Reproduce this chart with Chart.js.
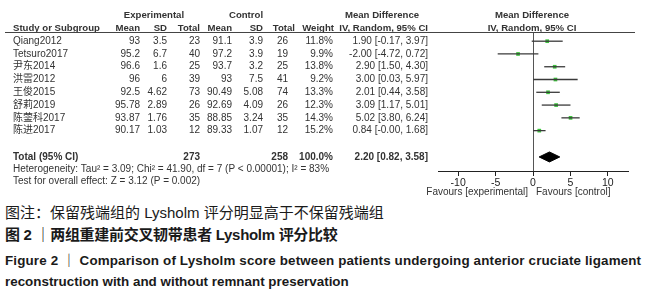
<!DOCTYPE html>
<html>
<head>
<meta charset="utf-8">
<script src="https://cdn.jsdelivr.net/npm/chart.js@4.4.1/dist/chart.umd.min.js"></script>
<style>
  body { margin: 0; background: #fff; width: 659px; height: 300px; overflow: hidden; position: relative; }
  #wrap { position: absolute; left: 0; top: 0; width: 659px; height: 200px; }
  .cap { position: absolute; left: 5px; white-space: nowrap; color: #1a1a1a;
         font-family: "Liberation Sans", "Noto Sans CJK SC", sans-serif; }
  .zh { font-size: 15px; line-height: 18px; }
  .en { font-size: 13.4px; line-height: 16px; font-weight: bold; letter-spacing: 0.15px; }
</style>
</head>
<body>
<div id="wrap"><canvas id="forest"></canvas></div>
<div class="cap zh" style="top:204px;">图注：保留残端组的 Lysholm 评分明显高于不保留残端组</div>
<div class="cap zh" style="top:226px;font-weight:bold;letter-spacing:-0.3px;">图 2 ｜两组重建前交叉韧带患者 Lysholm 评分比较</div>
<div class="cap en" style="top:253px;">Figure 2 ｜ Comparison of Lysholm score between patients undergoing anterior cruciate ligament</div>
<div class="cap en" style="top:274px;letter-spacing:0;">reconstruction with and without remnant preservation</div>

<script>
// ---- data ----
const studies  = ['Qiang2012', 'Tetsuro2017', '尹东2014', '洪雷2012', '王俊2015', '舒莉2019', '陈蓥科2017', '陈进2017'];
const expMean  = ['93', '95.2', '96.6', '96', '92.5', '95.78', '93.87', '90.17'];
const expSD    = ['3.5', '6.7', '1.6', '6', '4.62', '2.89', '1.76', '1.03'];
const expN     = [23, 40, 25, 39, 73, 26, 35, 12];
const ctlMean  = ['91.1', '97.2', '93.7', '93', '90.49', '92.69', '88.85', '89.33'];
const ctlSD    = ['3.9', '3.9', '3.2', '7.5', '5.08', '4.09', '3.24', '1.07'];
const ctlN     = [26, 19, 25, 41, 74, 26, 35, 12];
const weights  = ['11.8%', '9.9%', '13.8%', '9.2%', '13.3%', '12.3%', '14.3%', '15.2%'];
const md       = [1.90, -2.00, 2.90, 3.00, 2.01, 3.09, 5.02, 0.84];
const ciLow    = [-0.17, -4.72, 1.50, 0.03, 0.44, 1.17, 3.80, -0.00];
const ciHigh   = [3.97, 0.72, 4.30, 5.97, 3.58, 5.01, 6.24, 1.68];
const ciLabels = ['1.90 [-0.17, 3.97]', '-2.00 [-4.72, 0.72]', '2.90 [1.50, 4.30]', '3.00 [0.03, 5.97]',
                  '2.01 [0.44, 3.58]', '3.09 [1.17, 5.01]', '5.02 [3.80, 6.24]', '0.84 [-0.00, 1.68]'];
const totalMD = 2.20, totalLow = 0.82, totalHigh = 3.58;
const totalExpN = 273, totalCtlN = 258;
const xTicks = [-10, -5, 0, 5, 10];

// row index for the pooled line (studies are rows 0..7)
const TOTAL_ROW = 9.06;
const DIAMOND_H = 0.39;

const FONT = '"Liberation Sans", "Noto Sans CJK SC", Arial, sans-serif';
const TXT = '#333';

// ---- the left-hand table, header and footer text ----
const tablePlugin = {
  id: 'forestTable',
  beforeDatasetsDraw(chart) {
    // vertical line of no effect, from the header rule down to the axis
    const { ctx, chartArea, scales } = chart;
    const x0 = Math.round(scales.x.getPixelForValue(0)) + 0.5;
    ctx.save();
    ctx.strokeStyle = '#555';
    ctx.lineWidth = 1;
    ctx.beginPath();
    ctx.moveTo(x0, 32.5);
    ctx.lineTo(x0, chartArea.bottom);
    ctx.stroke();
    ctx.restore();
  },
  afterDraw(chart) {
    const { ctx, scales } = chart;
    const y = scales.y, x = scales.x;
    const txt = (s, px, py, align, bold, size) => {
      ctx.font = (bold ? 'bold ' : '') + (size || 10) + 'px ' + FONT;
      ctx.textAlign = align;
      ctx.fillText(s, px, py);
    };
    const head = (s, px, py, align) => txt(s, px, py, align, true, 9.6);
    ctx.save();
    ctx.fillStyle = TXT;
    ctx.textBaseline = 'middle';

    // headers
    head('Experimental', 154, 15, 'center');
    head('Control', 246, 15, 'center');
    head('Mean Difference', 382, 15, 'center');
    head('Mean Difference', 532, 15, 'center');
    head('Study or Subgroup', 13, 28, 'left');
    head('Mean', 140, 28, 'right');
    head('SD', 167, 28, 'right');
    head('Total', 200, 28, 'right');
    head('Mean', 232, 28, 'right');
    head('SD', 263, 28, 'right');
    head('Total', 295, 28, 'right');
    head('Weight', 334, 28, 'right');
    head('IV, Random, 95% CI', 428, 28, 'right');
    head('IV, Random, 95% CI', 532, 28, 'center');

    ctx.strokeStyle = '#444';
    ctx.lineWidth = 1;
    ctx.beginPath();
    ctx.moveTo(5, 32.5);
    ctx.lineTo(635, 32.5);
    ctx.stroke();

    // study rows
    studies.forEach((s, i) => {
      const py = y.getPixelForValue(i);
      txt(s, 13, py, 'left');
      txt(expMean[i], 140, py, 'right');
      txt(expSD[i], 167, py, 'right');
      txt(String(expN[i]), 200, py, 'right');
      txt(ctlMean[i], 232, py, 'right');
      txt(ctlSD[i], 263, py, 'right');
      txt(String(ctlN[i]), 288, py, 'right');
      txt(weights[i], 333, py, 'right');
      txt(ciLabels[i], 428, py, 'right');
    });

    // pooled row
    const ty = y.getPixelForValue(TOTAL_ROW);
    txt('Total (95% CI)', 13, ty, 'left', true);
    txt(String(totalExpN), 200, ty, 'right', true);
    txt(String(totalCtlN), 288, ty, 'right', true);
    txt('100.0%', 333, ty, 'right', true);
    txt(totalMD.toFixed(2) + ' [' + totalLow.toFixed(2) + ', ' + totalHigh.toFixed(2) + ']', 428, ty, 'right', true);

    txt('Heterogeneity: Tau² = 3.09; Chi² = 41.90, df = 7 (P < 0.00001); I² = 83%', 13, 169, 'left');
    txt('Test for overall effect: Z = 3.12 (P = 0.002)', 13, 181, 'left');

    // favours labels under the axis
    const zx = x.getPixelForValue(0);
    txt('Favours [experimental]', zx - 5, 192, 'right');
    txt('Favours [control]', zx + 3, 192, 'left');
    ctx.restore();
  }
};

const ciSets = studies.map((s, i) => ({
  type: 'line',
  data: [{ x: ciLow[i], y: i }, { x: ciHigh[i], y: i }],
  borderColor: '#3a3a3a',
  borderWidth: 1.3,
  pointRadius: 0,
  fill: false
}));

const pointSet = {
  type: 'scatter',
  data: md.map((m, i) => ({ x: m, y: i })),
  pointStyle: 'rect',
  pointRadius: 2.6,
  backgroundColor: '#3dc43d',
  borderWidth: 0
};

const diamondSet = {
  type: 'line',
  data: [
    { x: totalLow, y: TOTAL_ROW },
    { x: totalMD, y: TOTAL_ROW - DIAMOND_H },
    { x: totalHigh, y: TOTAL_ROW },
    { x: totalMD, y: TOTAL_ROW + DIAMOND_H },
    { x: totalLow, y: TOTAL_ROW }
  ],
  borderColor: '#000',
  backgroundColor: '#000',
  borderWidth: 1,
  pointRadius: 0,
  tension: 0,
  fill: 'shape'
};

new Chart(document.getElementById('forest'), {
  type: 'scatter',
  data: { datasets: [...ciSets, pointSet, diamondSet] },
  options: {
    responsive: true,
    maintainAspectRatio: false,
    animation: false,
    layout: { padding: { left: 438, right: 31, top: 38, bottom: 0 } },
    plugins: { legend: { display: false }, tooltip: { enabled: false } },
    scales: {
      x: {
        type: 'linear',
        min: -12.7,
        max: 12.7,
        afterBuildTicks: s => { s.ticks = xTicks.map(v => ({ value: v })); },
        afterFit: s => { s.height = 29; },
        ticks: { color: '#222', font: { size: 10.5, family: FONT }, padding: 1, maxRotation: 0, autoSkip: false },
        grid: { drawOnChartArea: false, drawTicks: true, tickLength: 5, color: '#222' },
        border: { color: '#222', width: 1 }
      },
      y: { type: 'linear', display: false, reverse: true, min: -0.25, max: 10.16 }
    }
  },
  plugins: [tablePlugin]
});
</script>
</body>
</html>
